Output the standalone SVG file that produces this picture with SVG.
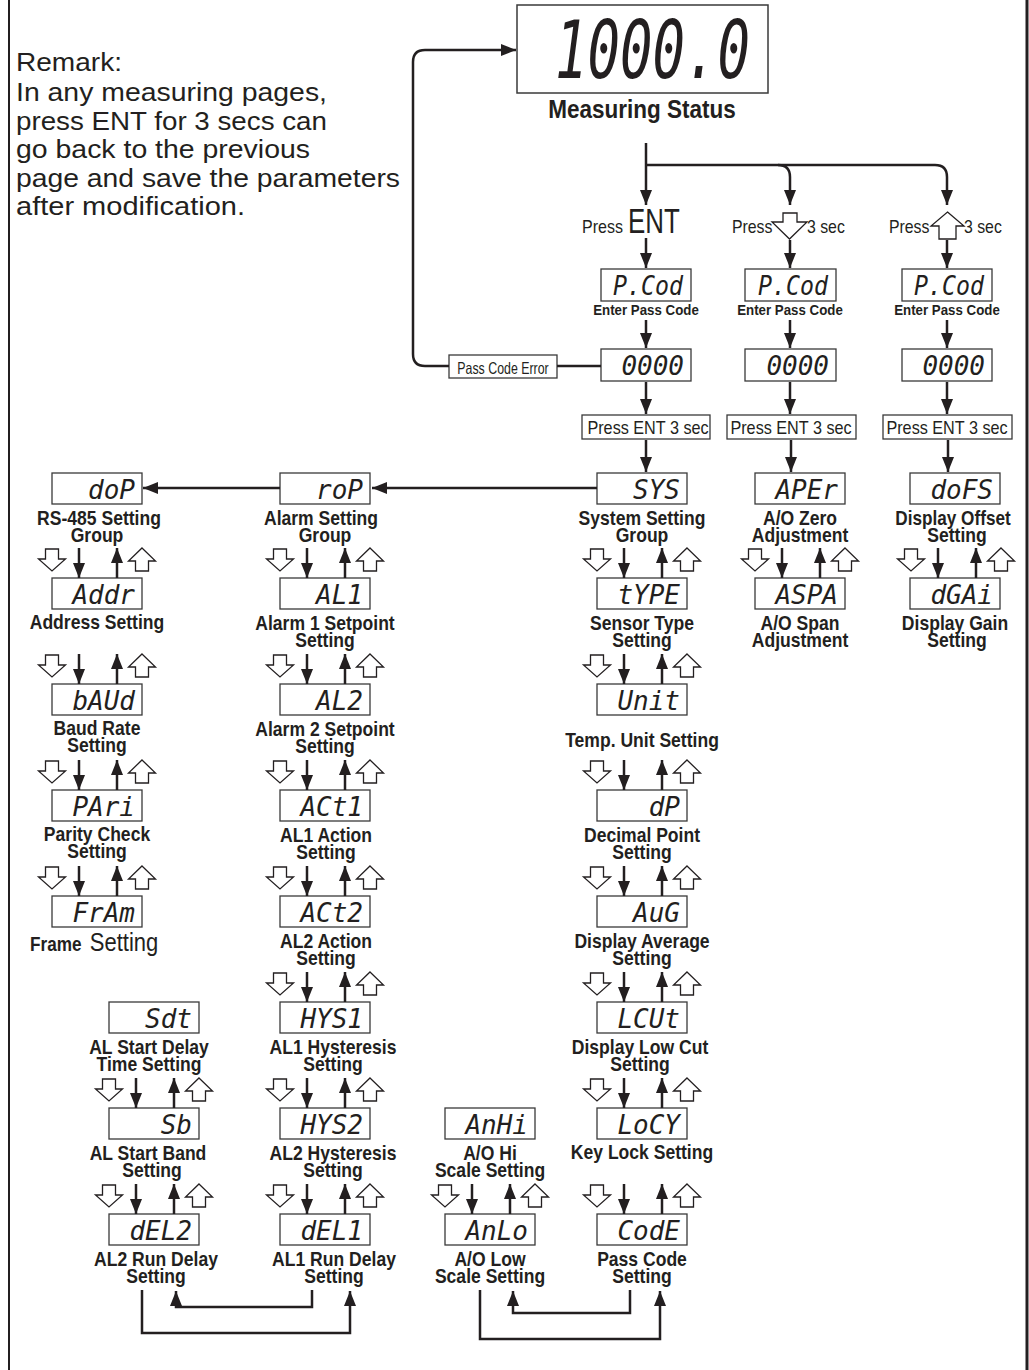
<svg xmlns="http://www.w3.org/2000/svg" xmlns:xlink="http://www.w3.org/1999/xlink" width="1029" height="1370" viewBox="0 0 1029 1370">
<style>
.ln{fill:none;stroke:#231f20;stroke-width:2.5}
.ar{marker-end:url(#a)}
.box{fill:#fff;stroke:#3a3a3a;stroke-width:1.3}
.seg{font-family:"DejaVu Sans Mono",monospace;font-style:oblique;font-size:26px;fill:#231f20;text-anchor:end}
.lb{font-family:"Liberation Sans",Arial,sans-serif;font-weight:bold;font-size:19.5px;fill:#231f20;text-anchor:middle}
.lb2{font-family:"Liberation Sans",Arial,sans-serif;font-weight:bold;font-size:14px;fill:#231f20;text-anchor:middle}
.rg{font-family:"Liberation Sans",Arial,sans-serif;font-size:18px;fill:#231f20}
.rm{font-family:"Liberation Sans",Arial,sans-serif;font-size:26px;fill:#231f20}
.ha{fill:#fff;stroke:#231f20;stroke-width:1.3}
</style>
<defs>
<marker id="a" viewBox="0 0 15 12" refX="15" refY="6" markerWidth="15" markerHeight="12" orient="auto" markerUnits="userSpaceOnUse"><path d="M0,0 L15,6 L0,12 Z" fill="#231f20"/></marker>
<path id="hd" class="ha" d="M-6.5,0 H6.5 V10 H13.5 L0,22 L-13.5,10 H-6.5 Z"/>
<path id="hu" class="ha" d="M0,0 L13.5,13 H6.5 V23 H-6.5 V13 H-13.5 Z"/>
</defs>
<rect width="1029" height="1370" fill="#fff"/>
<path d="M9,0V1370" stroke="#231f20" stroke-width="2"/>
<path d="M1027,0V1370" stroke="#231f20" stroke-width="3"/>

<g id="remark">
<text class="rm" x="16" y="71" textLength="106" lengthAdjust="spacingAndGlyphs">Remark:</text>
<text class="rm" x="16" y="101" textLength="311" lengthAdjust="spacingAndGlyphs">In any measuring pages,</text>
<text class="rm" x="16" y="130" textLength="311" lengthAdjust="spacingAndGlyphs">press ENT for 3 secs can</text>
<text class="rm" x="16" y="158" textLength="294" lengthAdjust="spacingAndGlyphs">go back to the previous</text>
<text class="rm" x="16" y="187" textLength="384" lengthAdjust="spacingAndGlyphs">page and save the parameters</text>
<text class="rm" x="16" y="215" textLength="229" lengthAdjust="spacingAndGlyphs">after modification.</text>
</g>

<g id="measuring">
<rect class="box" x="517" y="5" width="251" height="88" style="stroke-width:1.5"/>
<text class="seg" x="555" y="78" style="font-size:80px;text-anchor:start" textLength="195" lengthAdjust="spacingAndGlyphs">1000.0</text>
<text class="lb" style="font-size:25px" transform="translate(642 118) scale(0.9 1)">Measuring Status</text>
</g>

<g id="press-ent">
<text class="rg" transform="translate(582 233) scale(0.89 1)">Press</text>
<text class="rg" style="font-size:35px" transform="translate(628 233) scale(0.74 1)">ENT</text>
</g>
<g id="press-down">
<text class="rg" transform="translate(732 233) scale(0.88 1)">Press</text>
<path class="ha" d="M783,213 H797 V222 H807 L789.5,239 L772,222 H783 Z"/>
<text class="rg" transform="translate(807 233) scale(0.88 1)">3 sec</text>
</g>
<g id="press-up">
<text class="rg" transform="translate(889 233) scale(0.88 1)">Press</text>
<path class="ha" d="M947.5,212 L964,226 H956 V239 H939 V226 H931 Z"/>
<text class="rg" transform="translate(964 233) scale(0.88 1)">3 sec</text>
</g>

<g id="pcod-a"><rect class="box" x="601" y="269" width="90" height="32"/><text class="seg" x="613" y="295" style="text-anchor:start" textLength="70" lengthAdjust="spacingAndGlyphs">P.Cod</text><text class="lb2" transform="translate(646 315) scale(0.95 1)">Enter Pass Code</text></g>
<g id="pcod-b"><rect class="box" x="745" y="269" width="91" height="32"/><text class="seg" x="758" y="295" style="text-anchor:start" textLength="70" lengthAdjust="spacingAndGlyphs">P.Cod</text><text class="lb2" transform="translate(790 315) scale(0.95 1)">Enter Pass Code</text></g>
<g id="pcod-c"><rect class="box" x="902" y="269" width="90" height="32"/><text class="seg" x="914" y="295" style="text-anchor:start" textLength="70" lengthAdjust="spacingAndGlyphs">P.Cod</text><text class="lb2" transform="translate(947 315) scale(0.95 1)">Enter Pass Code</text></g>

<g id="code-a"><rect class="box" x="601" y="349" width="90" height="32"/><text class="seg" x="684" y="375">0000</text></g>
<g id="code-b"><rect class="box" x="745" y="349" width="91" height="32"/><text class="seg" x="829" y="375">0000</text></g>
<g id="code-c"><rect class="box" x="902" y="349" width="90" height="32"/><text class="seg" x="985" y="375">0000</text></g>

<g id="err"><rect class="box" x="449" y="355" width="108" height="23"/><text class="rg" style="font-size:16.5px;text-anchor:middle" transform="translate(503 374) scale(0.75 1)">Pass Code Error</text></g>

<g id="ent3-a"><rect class="box" x="582" y="415" width="128" height="24"/><text class="rg" style="text-anchor:middle" transform="translate(648 434) scale(0.9 1)">Press ENT 3 sec</text></g>
<g id="ent3-b"><rect class="box" x="727" y="415" width="129" height="24"/><text class="rg" style="text-anchor:middle" transform="translate(791 434) scale(0.9 1)">Press ENT 3 sec</text></g>
<g id="ent3-c"><rect class="box" x="883" y="415" width="129" height="24"/><text class="rg" style="text-anchor:middle" transform="translate(947 434) scale(0.9 1)">Press ENT 3 sec</text></g>

<!-- RS-485 column -->
<g id="doP"><rect class="box" x="52" y="473" width="90" height="31"/><text class="seg" x="135" y="499">doP</text><text class="lb" transform="translate(99 525) scale(0.9 1)">RS-485 Setting</text><text class="lb" transform="translate(97 542) scale(0.9 1)">Group</text></g>
<g id="Addr"><rect class="box" x="52" y="578" width="90" height="31"/><text class="seg" x="135" y="604">Addr</text><text class="lb" transform="translate(97 629) scale(0.9 1)">Address Setting</text></g>
<g id="bAUd"><rect class="box" x="52" y="684" width="90" height="31"/><text class="seg" x="135" y="710">bAUd</text><text class="lb" transform="translate(97 735) scale(0.9 1)">Baud Rate</text><text class="lb" transform="translate(97 752) scale(0.9 1)">Setting</text></g>
<g id="PAri"><rect class="box" x="52" y="790" width="90" height="31"/><text class="seg" x="135" y="816">PAri</text><text class="lb" transform="translate(97 841) scale(0.9 1)">Parity Check</text><text class="lb" transform="translate(97 858) scale(0.9 1)">Setting</text></g>
<g id="FrAm"><rect class="box" x="52" y="896" width="90" height="31"/><text class="seg" x="135" y="922">FrAm</text><text class="lb" style="text-anchor:start" transform="translate(30 951) scale(0.88 1)">Frame <tspan x="68" style="font-weight:normal;font-size:25px">Setting</tspan></text></g>

<!-- Alarm column -->
<g id="roP"><rect class="box" x="280" y="473" width="90" height="31"/><text class="seg" x="363" y="499">roP</text><text class="lb" transform="translate(321 525) scale(0.9 1)">Alarm Setting</text><text class="lb" transform="translate(325 542) scale(0.9 1)">Group</text></g>
<g id="AL1"><rect class="box" x="280" y="578" width="90" height="31"/><text class="seg" x="363" y="604">AL1</text><text class="lb" transform="translate(325 630) scale(0.9 1)">Alarm 1 Setpoint</text><text class="lb" transform="translate(325 647) scale(0.9 1)">Setting</text></g>
<g id="AL2"><rect class="box" x="280" y="684" width="90" height="31"/><text class="seg" x="363" y="710">AL2</text><text class="lb" transform="translate(325 736) scale(0.9 1)">Alarm 2 Setpoint</text><text class="lb" transform="translate(325 753) scale(0.9 1)">Setting</text></g>
<g id="ACt1"><rect class="box" x="280" y="790" width="90" height="31"/><text class="seg" x="363" y="816">ACt1</text><text class="lb" transform="translate(326 842) scale(0.9 1)">AL1 Action</text><text class="lb" transform="translate(326 859) scale(0.9 1)">Setting</text></g>
<g id="ACt2"><rect class="box" x="280" y="896" width="90" height="31"/><text class="seg" x="363" y="922">ACt2</text><text class="lb" transform="translate(326 948) scale(0.9 1)">AL2 Action</text><text class="lb" transform="translate(326 965) scale(0.9 1)">Setting</text></g>
<g id="HYS1"><rect class="box" x="280" y="1002" width="90" height="31"/><text class="seg" x="363" y="1028">HYS1</text><text class="lb" transform="translate(333 1054) scale(0.9 1)">AL1 Hysteresis</text><text class="lb" transform="translate(333 1071) scale(0.9 1)">Setting</text></g>
<g id="HYS2"><rect class="box" x="280" y="1108" width="90" height="31"/><text class="seg" x="363" y="1134">HYS2</text><text class="lb" transform="translate(333 1160) scale(0.9 1)">AL2 Hysteresis</text><text class="lb" transform="translate(333 1177) scale(0.9 1)">Setting</text></g>
<g id="dEL1"><rect class="box" x="280" y="1214" width="90" height="31"/><text class="seg" x="363" y="1240">dEL1</text><text class="lb" transform="translate(334 1266) scale(0.9 1)">AL1 Run Delay</text><text class="lb" transform="translate(334 1283) scale(0.9 1)">Setting</text></g>

<!-- System column -->
<g id="SYS"><rect class="box" x="597" y="473" width="90" height="31"/><text class="seg" x="680" y="499">SYS</text><text class="lb" transform="translate(642 525) scale(0.9 1)">System Setting</text><text class="lb" transform="translate(642 542) scale(0.9 1)">Group</text></g>
<g id="tYPE"><rect class="box" x="597" y="578" width="90" height="31"/><text class="seg" x="680" y="604">tYPE</text><text class="lb" transform="translate(642 630) scale(0.9 1)">Sensor Type</text><text class="lb" transform="translate(642 647) scale(0.9 1)">Setting</text></g>
<g id="Unit"><rect class="box" x="597" y="684" width="90" height="31"/><text class="seg" x="680" y="710">Unit</text><text class="lb" transform="translate(642 747) scale(0.9 1)">Temp. Unit Setting</text></g>
<g id="dP"><rect class="box" x="597" y="790" width="90" height="31"/><text class="seg" x="680" y="816">dP</text><text class="lb" transform="translate(642 842) scale(0.9 1)">Decimal Point</text><text class="lb" transform="translate(642 859) scale(0.9 1)">Setting</text></g>
<g id="AuG"><rect class="box" x="597" y="896" width="90" height="31"/><text class="seg" x="680" y="922">AuG</text><text class="lb" transform="translate(642 948) scale(0.9 1)">Display Average</text><text class="lb" transform="translate(642 965) scale(0.9 1)">Setting</text></g>
<g id="LCUt"><rect class="box" x="597" y="1002" width="90" height="31"/><text class="seg" x="680" y="1028">LCUt</text><text class="lb" transform="translate(640 1054) scale(0.9 1)">Display Low Cut</text><text class="lb" transform="translate(640 1071) scale(0.9 1)">Setting</text></g>
<g id="LoCY"><rect class="box" x="597" y="1108" width="90" height="31"/><text class="seg" x="680" y="1134">LoCY</text><text class="lb" transform="translate(642 1159) scale(0.9 1)">Key Lock Setting</text></g>
<g id="CodE"><rect class="box" x="597" y="1214" width="90" height="31"/><text class="seg" x="680" y="1240">CodE</text><text class="lb" transform="translate(642 1266) scale(0.9 1)">Pass Code</text><text class="lb" transform="translate(642 1283) scale(0.9 1)">Setting</text></g>

<!-- A/O column -->
<g id="APEr"><rect class="box" x="755" y="473" width="90" height="31"/><text class="seg" x="838" y="499">APEr</text><text class="lb" transform="translate(800 525) scale(0.9 1)">A/O Zero</text><text class="lb" transform="translate(800 542) scale(0.9 1)">Adjustment</text></g>
<g id="ASPA"><rect class="box" x="755" y="578" width="90" height="31"/><text class="seg" x="838" y="604">ASPA</text><text class="lb" transform="translate(800 630) scale(0.9 1)">A/O Span</text><text class="lb" transform="translate(800 647) scale(0.9 1)">Adjustment</text></g>

<!-- Display column -->
<g id="doFS"><rect class="box" x="910" y="473" width="90" height="31"/><text class="seg" x="993" y="499">doFS</text><text class="lb" transform="translate(953 525) scale(0.88 1)">Display Offset</text><text class="lb" transform="translate(957 542) scale(0.9 1)">Setting</text></g>
<g id="dGAi"><rect class="box" x="910" y="578" width="90" height="31"/><text class="seg" x="993" y="604">dGAi</text><text class="lb" transform="translate(955 630) scale(0.9 1)">Display Gain</text><text class="lb" transform="translate(957 647) scale(0.9 1)">Setting</text></g>

<!-- Start delay column -->
<g id="Sdt"><rect class="box" x="109" y="1002" width="90" height="31"/><text class="seg" x="192" y="1028">Sdt</text><text class="lb" transform="translate(149 1054) scale(0.9 1)">AL Start Delay</text><text class="lb" transform="translate(149 1071) scale(0.9 1)">Time Setting</text></g>
<g id="Sb"><rect class="box" x="109" y="1108" width="90" height="31"/><text class="seg" x="192" y="1134">Sb</text><text class="lb" transform="translate(148 1160) scale(0.9 1)">AL Start Band</text><text class="lb" transform="translate(152 1177) scale(0.9 1)">Setting</text></g>
<g id="dEL2"><rect class="box" x="109" y="1214" width="90" height="31"/><text class="seg" x="192" y="1240">dEL2</text><text class="lb" transform="translate(156 1266) scale(0.9 1)">AL2 Run Delay</text><text class="lb" transform="translate(156 1283) scale(0.9 1)">Setting</text></g>

<!-- A/O scale column -->
<g id="AnHi"><rect class="box" x="445" y="1108" width="90" height="31"/><text class="seg" x="528" y="1134">AnHi</text><text class="lb" transform="translate(490 1160) scale(0.9 1)">A/O Hi</text><text class="lb" transform="translate(490 1177) scale(0.9 1)">Scale Setting</text></g>
<g id="AnLo"><rect class="box" x="445" y="1214" width="90" height="31"/><text class="seg" x="528" y="1240">AnLo</text><text class="lb" transform="translate(490 1266) scale(0.9 1)">A/O Low</text><text class="lb" transform="translate(490 1283) scale(0.9 1)">Scale Setting</text></g>

<g id="connectors">
<path class="ln ar" d="M646,143V205"/>
<path class="ln ar" d="M646,165H778Q790,165 790,177V205"/>
<path class="ln ar" d="M778,165H935Q947,165 947,177V205"/>
<path class="ln ar" d="M646,238V268"/>
<path class="ln ar" d="M790,240V268"/>
<path class="ln ar" d="M947,240V268"/>
<path class="ln ar" d="M646,320V348"/>
<path class="ln ar" d="M790,320V348"/>
<path class="ln ar" d="M947,320V348"/>
<path class="ln ar" d="M646,382V414"/>
<path class="ln ar" d="M790,382V414"/>
<path class="ln ar" d="M947,382V414"/>
<path class="ln ar" d="M646,440V472"/>
<path class="ln ar" d="M791,440V472"/>
<path class="ln ar" d="M948,440V472"/>
<path class="ln" d="M601,366H557"/>
<path class="ln ar" d="M449,366H425Q413,366 413,354V62Q413,50 425,50H516"/>
<path class="ln ar" d="M597,488H372"/>
<path class="ln ar" d="M280,488H143"/>

<path class="ln ar" d="M79,548V578"/><path class="ln ar" d="M117,578V548"/><use href="#hd" x="52" y="549"/><use href="#hu" x="142" y="548"/>
<path class="ln ar" d="M79,654V684"/><path class="ln ar" d="M117,684V654"/><use href="#hd" x="52" y="655"/><use href="#hu" x="142" y="654"/>
<path class="ln ar" d="M79,760V790"/><path class="ln ar" d="M117,790V760"/><use href="#hd" x="52" y="761"/><use href="#hu" x="142" y="760"/>
<path class="ln ar" d="M79,866V896"/><path class="ln ar" d="M117,896V866"/><use href="#hd" x="52" y="867"/><use href="#hu" x="142" y="866"/>

<path class="ln ar" d="M307,548V578"/><path class="ln ar" d="M345,578V548"/><use href="#hd" x="280" y="549"/><use href="#hu" x="370" y="548"/>
<path class="ln ar" d="M307,654V684"/><path class="ln ar" d="M345,684V654"/><use href="#hd" x="280" y="655"/><use href="#hu" x="370" y="654"/>
<path class="ln ar" d="M307,760V790"/><path class="ln ar" d="M345,790V760"/><use href="#hd" x="280" y="761"/><use href="#hu" x="370" y="760"/>
<path class="ln ar" d="M307,866V896"/><path class="ln ar" d="M345,896V866"/><use href="#hd" x="280" y="867"/><use href="#hu" x="370" y="866"/>
<path class="ln ar" d="M307,972V1002"/><path class="ln ar" d="M345,1002V972"/><use href="#hd" x="280" y="973"/><use href="#hu" x="370" y="972"/>
<path class="ln ar" d="M307,1078V1108"/><path class="ln ar" d="M345,1108V1078"/><use href="#hd" x="280" y="1079"/><use href="#hu" x="370" y="1078"/>
<path class="ln ar" d="M307,1184V1214"/><path class="ln ar" d="M345,1214V1184"/><use href="#hd" x="280" y="1185"/><use href="#hu" x="370" y="1184"/>

<path class="ln ar" d="M624,548V578"/><path class="ln ar" d="M662,578V548"/><use href="#hd" x="597" y="549"/><use href="#hu" x="687" y="548"/>
<path class="ln ar" d="M624,654V684"/><path class="ln ar" d="M662,684V654"/><use href="#hd" x="597" y="655"/><use href="#hu" x="687" y="654"/>
<path class="ln ar" d="M624,760V790"/><path class="ln ar" d="M662,790V760"/><use href="#hd" x="597" y="761"/><use href="#hu" x="687" y="760"/>
<path class="ln ar" d="M624,866V896"/><path class="ln ar" d="M662,896V866"/><use href="#hd" x="597" y="867"/><use href="#hu" x="687" y="866"/>
<path class="ln ar" d="M624,972V1002"/><path class="ln ar" d="M662,1002V972"/><use href="#hd" x="597" y="973"/><use href="#hu" x="687" y="972"/>
<path class="ln ar" d="M624,1078V1108"/><path class="ln ar" d="M662,1108V1078"/><use href="#hd" x="597" y="1079"/><use href="#hu" x="687" y="1078"/>
<path class="ln ar" d="M624,1184V1214"/><path class="ln ar" d="M662,1214V1184"/><use href="#hd" x="597" y="1185"/><use href="#hu" x="687" y="1184"/>

<path class="ln ar" d="M782,548V578"/><path class="ln ar" d="M820,578V548"/><use href="#hd" x="755" y="549"/><use href="#hu" x="845" y="548"/>
<path class="ln ar" d="M938,548V578"/><path class="ln ar" d="M976,578V548"/><use href="#hd" x="911" y="549"/><use href="#hu" x="1001" y="548"/>

<path class="ln ar" d="M136,1078V1108"/><path class="ln ar" d="M174,1108V1078"/><use href="#hd" x="109" y="1079"/><use href="#hu" x="199" y="1078"/>
<path class="ln ar" d="M136,1184V1214"/><path class="ln ar" d="M174,1214V1184"/><use href="#hd" x="109" y="1185"/><use href="#hu" x="199" y="1184"/>

<path class="ln ar" d="M472,1184V1214"/><path class="ln ar" d="M510,1214V1184"/><use href="#hd" x="445" y="1185"/><use href="#hu" x="535" y="1184"/>

<path class="ln ar" d="M142,1290V1333H350V1291"/>
<path class="ln ar" d="M312,1290V1307H176V1291"/>
<path class="ln ar" d="M480,1290V1339H660V1291"/>
<path class="ln ar" d="M630,1290V1313H513V1291"/>
</g>
</svg>
